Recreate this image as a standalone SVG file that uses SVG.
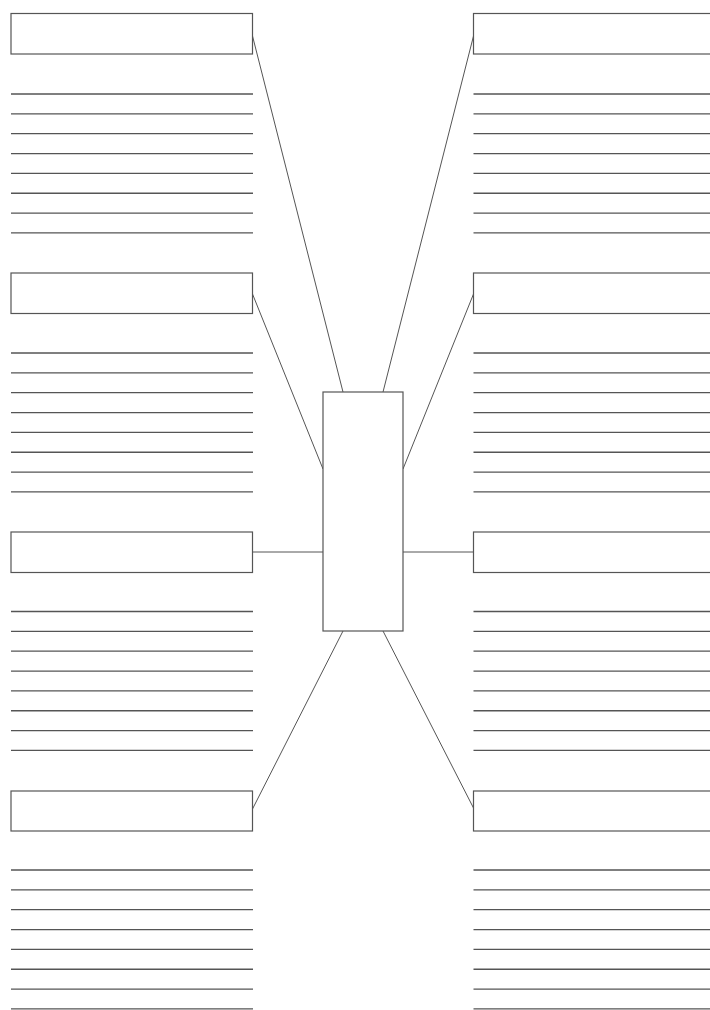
<svg xmlns="http://www.w3.org/2000/svg" width="710" height="1010" viewBox="0 0 710 1010">
<style>
.box{fill:#fff;stroke:#555;stroke-width:1.2}
.rule{stroke:#555;stroke-width:1.3}
.conn{stroke:#555;stroke-width:1;fill:none}
</style>
<defs>
<g id="rules">
<line class="rule" x1="0" y1="0" x2="242" y2="0"/>
<line class="rule" x1="0" y1="19.85" x2="242" y2="19.85"/>
<line class="rule" x1="0" y1="39.7" x2="242" y2="39.7"/>
<line class="rule" x1="0" y1="59.55" x2="242" y2="59.55"/>
<line class="rule" x1="0" y1="79.4" x2="242" y2="79.4"/>
<line class="rule" x1="0" y1="99.25" x2="242" y2="99.25"/>
<line class="rule" x1="0" y1="119.1" x2="242" y2="119.1"/>
<line class="rule" x1="0" y1="138.95" x2="242" y2="138.95"/>
</g>
</defs>
<rect width="710" height="1010" fill="#fff"/>
<g id="connectors">
<line class="conn" x1="252.5" y1="36" x2="343" y2="392"/>
<line class="conn" x1="473.5" y1="36" x2="383" y2="392"/>
<line class="conn" x1="252.5" y1="294" x2="323" y2="469"/>
<line class="conn" x1="473.5" y1="294" x2="403" y2="469"/>
<line class="conn" x1="252.5" y1="552" x2="323" y2="552"/>
<line class="conn" x1="403" y1="552" x2="473.5" y2="552"/>
<line class="conn" x1="343" y1="631" x2="252.5" y2="809"/>
<line class="conn" x1="383" y1="631" x2="473.5" y2="808"/>
</g>
<g id="center"><rect class="box" x="323" y="392" width="80" height="239"/></g>
<g id="left1"><rect class="box" x="11" y="13.5" width="241.5" height="40.5"/><use href="#rules" x="11" y="94"/></g>
<g id="left2"><rect class="box" x="11" y="273" width="241.5" height="40.5"/><use href="#rules" x="11" y="353"/></g>
<g id="left3"><rect class="box" x="11" y="532" width="241.5" height="40.5"/><use href="#rules" x="11" y="611.5"/></g>
<g id="left4"><rect class="box" x="11" y="791" width="241.5" height="40"/><use href="#rules" x="11" y="870"/></g>
<g id="right1"><rect class="box" x="473.5" y="13.5" width="250" height="40.5"/><use href="#rules" x="473.5" y="94"/></g>
<g id="right2"><rect class="box" x="473.5" y="273" width="250" height="40.5"/><use href="#rules" x="473.5" y="353"/></g>
<g id="right3"><rect class="box" x="473.5" y="532" width="250" height="40.5"/><use href="#rules" x="473.5" y="611.5"/></g>
<g id="right4"><rect class="box" x="473.5" y="791" width="250" height="40"/><use href="#rules" x="473.5" y="870"/></g>
</svg>
